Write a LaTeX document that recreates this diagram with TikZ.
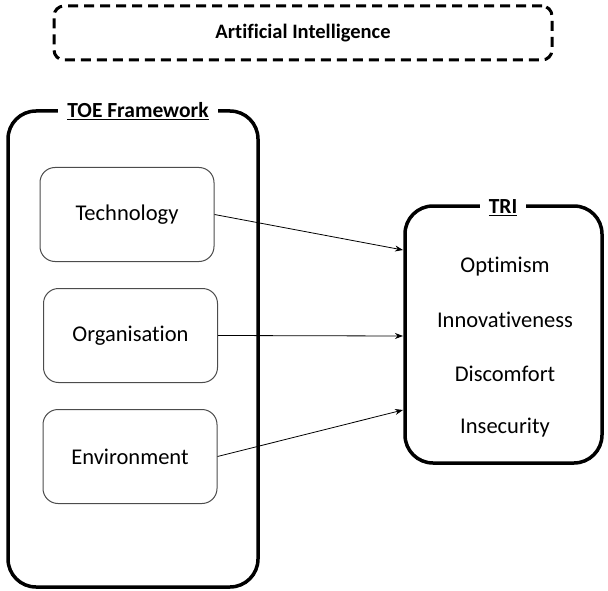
\documentclass[tikz,border=0pt]{standalone}
\usepackage{fontspec}
\setmainfont{Carlito}[Ligatures=CommonOff]
\usetikzlibrary{arrows.meta}
\begin{document}
\begin{tikzpicture}[x=1pt,y=-1pt,
  thickbox/.style={draw, line width=3.5pt, rounded corners=28pt, inner sep=0pt},
  inbox/.style={draw=black!70, line width=1pt, rounded corners=15pt, minimum width=174pt, minimum height=94pt, inner sep=0pt, font=\fontsize{22.5}{27}\selectfont},
  boxtitle/.style={fill=white, inner xsep=9pt, inner ysep=2pt, font=\bfseries\fontsize{21.5}{26}\selectfont},
  item/.style={font=\fontsize{22.5}{27}\selectfont},
  conn/.style={-{Stealth[length=8pt,width=6pt]}, line width=0.8pt}
]
\useasboundingbox (0,0) rectangle (608,591);
\node[draw, dash pattern=on 10pt off 6pt, line width=3pt, rounded corners=10pt, minimum width=498pt, minimum height=54pt, font=\bfseries\fontsize{20.5}{25}\selectfont] (ai) at (303,33) {Artificial Intelligence};
\node[thickbox, minimum width=250pt, minimum height=476pt] (toe) at (133,349) {};
\node[boxtitle] (toet) at (138,111) {\underline{TOE Framework}};
\node[thickbox, minimum width=197pt, minimum height=257pt] (tri) at (503.5,334.5) {};
\node[boxtitle] (trit) at (503,208) {\underline{TRI}};
\node[inbox] (tech) at (127,214.5) {Technology};
\node[inbox] (org) at (130.5,335.5) {Organisation};
\node[inbox] (env) at (130,456.5) {Environment};
\node[item] (opt) at (505,267) {Optimism};
\node[item] (inn) at (505,320) {Innovativeness};
\node[item] (dis) at (505,374) {Discomfort};
\node[item] (ins) at (505,428) {Insecurity};
\coordinate (a1) at (403,250);
\coordinate (a2) at (403,336);
\coordinate (a3) at (403,410);
\draw[conn] (tech.east) -- (a1);
\draw[conn] (org.east) -- (a2);
\draw[conn] (env.east) -- (a3);
\end{tikzpicture}
\end{document}
